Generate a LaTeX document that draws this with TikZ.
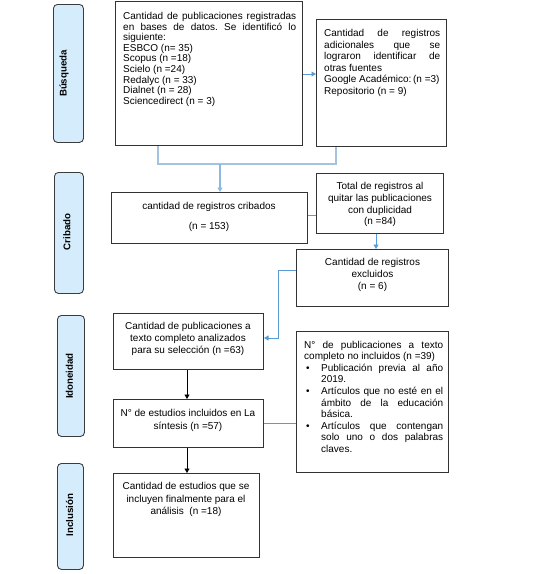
\documentclass[tikz,border=0pt]{standalone}
\usepackage{fontspec}
\setmainfont{Liberation Sans}
\usetikzlibrary{arrows.meta}
\definecolor{lblfill}{RGB}{212,236,252}
\definecolor{lbldraw}{RGB}{60,60,60}
\definecolor{conn}{RGB}{91,155,213}
\definecolor{mergec}{RGB}{165,195,222}
\hyphenpenalty=10000 \exhyphenpenalty=10000 \tolerance=10000
\frenchspacing
\begin{document}
\begin{tikzpicture}[x=1pt,y=-1pt,
  lbl/.style={draw=lbldraw, fill=lblfill, rounded corners=4pt, line width=0.9pt, inner sep=0, anchor=north west},
  lbltxt/.style={rotate=90, inner sep=0, font=\fontsize{9.7}{11}\selectfont\bfseries},
  box/.style={draw=black!80, line width=1pt, inner sep=0, anchor=north west},
  txt/.style={inner sep=0, font=\fontsize{10}{11.7}\selectfont},
  ctxt/.style={txt, align=center, anchor=north},
  arr/.style={-{Triangle[length=4.5pt,width=5pt]}},
  blueline/.style={draw=conn, line width=0.9pt},
  mergeline/.style={draw=mergec, line width=1.4pt},
  blackline/.style={draw=black, line width=0.9pt}
]
\useasboundingbox (0,0) rectangle (537,574);

% side labels
\node[lbl, minimum width=30pt, minimum height=138pt] (sb) at (53,4) {};
\node[lbltxt] (sbt) at (64,73.5) {Búsqueda};
\node[lbl, minimum width=29pt, minimum height=121pt] (sc) at (54,172) {};
\node[lbltxt] (sct) at (67,232) {Cribado};
\node[lbl, minimum width=27pt, minimum height=121pt] (si) at (57,315) {};
\node[lbltxt] (sit) at (69.5,376) {Idoneidad};
\node[lbl, minimum width=26pt, minimum height=106pt] (sn) at (57,463) {};
\node[lbltxt] (snt) at (69.5,515) {Inclusión};

% boxes
\node[box, minimum width=187pt, minimum height=144pt] (b1) at (115,1) {};
\node[box, minimum width=130pt, minimum height=127pt] (b2) at (316,19) {};
\node[box, minimum width=196pt, minimum height=51pt] (crib) at (111,192) {};
\node[box, minimum width=127pt, minimum height=60pt] (tot) at (316,173) {};
\node[box, minimum width=152pt, minimum height=57pt] (exc) at (296,249) {};
\node[box, minimum width=150pt, minimum height=56pt] (tc) at (113,313) {};
\node[box, minimum width=150pt, minimum height=48pt] (ns) at (113,399) {};
\node[box, minimum width=152pt, minimum height=141pt] (nx) at (296,331) {};
\node[box, minimum width=146pt, minimum height=84pt] (fin) at (113,473) {};

% texts
\node[txt, text width=173pt, align=justify, anchor=north west,
      font=\fontsize{10}{10.6}\selectfont] (b1t) at (123,12)
  {\noindent Cantidad de publicaciones registradas en bases de datos. Se identificó lo siguiente:\par
   \noindent ESBCO (n= 35)\par \noindent Scopus (n =18)\par \noindent Scielo (n =24)\par \noindent Redalyc (n = 33)\par
   \noindent Dialnet (n = 28)\par \noindent Sciencedirect (n = 3)\par};
\node[txt, text width=116pt, align=justify, anchor=north west,
      font=\fontsize{10}{11.5}\selectfont] (b2t) at (324,29.5)
  {\noindent Cantidad de registros adicionales que se lograron identificar de otras fuentes\par
   \noindent Google Académico:\,(n =3)\par \noindent Repositorio (n = 9)\par};
\node[ctxt] (cribt) at (209,202.4) {cantidad de registros cribados\\[8pt](n = 153)};
\node[ctxt] (tott) at (380,182.4) {Total de registros al\\ quitar las publicaciones\\ con duplicidad\\ (n =84)};
\node[ctxt] (exct) at (372.5,258.4) {Cantidad de registros\\ excluidos\\ (n = 6)};
\node[ctxt] (tct) at (188,322.4) {Cantidad de publicaciones a\\ texto completo analizados\\ para su selección (n =63)};
\node[ctxt, font=\fontsize{10}{12.8}\selectfont] (nst) at (188,409.4) {N° de estudios incluidos en La\\ síntesis (n =57)};
\node[ctxt, font=\fontsize{10}{12.4}\selectfont] (fint) at (186,482.4) {Cantidad de estudios que se\\ incluyen finalmente para el\\ análisis~ (n =18)};
\node[txt, text width=139pt, align=justify, anchor=north west,
      font=\fontsize{10}{11.6}\selectfont] (nxt) at (304,340.7)
  {\noindent N° de publicaciones a texto completo no incluidos (n =39)\par
   {\leftskip=17pt \noindent\llap{\makebox[15pt][l]{\textbullet}}Publicación previa al año 2019.\par}
   {\leftskip=17pt \noindent\llap{\makebox[15pt][l]{\textbullet}}Artículos que no esté en el\linebreak ámbito de la educación básica.\par}
   {\leftskip=17pt \noindent\llap{\makebox[15pt][l]{\textbullet}}Artículos que contengan solo uno o dos palabras claves.\par}};

% connectors
\coordinate (jl) at (158,164);
\coordinate (jr) at (336,164);
\coordinate (jm) at (220,164);
\coordinate (ja) at (302,74);
\coordinate (jx) at (278,270);
\coordinate (jy) at (278,338);
\coordinate (jt) at (376,233);
\coordinate (jc) at (187,369);
\coordinate (jn) at (263,423);
\coordinate (jf) at (307,215);

\draw[blueline, arr] (b1.east |- ja) -- (b2.west |- ja);
\draw[mergeline] (b1.south -| jl) -- (jl) -- (jr) -- (b2.south -| jr);
\draw[mergeline, draw=conn!70, arr] (jm) -- (crib.north -| jm);
\draw[blueline] (crib.east |- jf) -- (tot.west |- jf);
\draw[blueline, arr] (tot.south -| jt) -- (exc.north -| jt);
\draw[blueline, arr] (exc.west |- jx) -- (jx) -- (jy) -- (tc.east |- jy);
\draw[blackline, arr] (tc.south -| jc) -- (ns.north -| jc);
\draw[blueline] (ns.east |- jn) -- (nx.west |- jn);
\draw[blackline, arr] (ns.south -| jc) -- (fin.north -| jc);
\end{tikzpicture}
\end{document}
